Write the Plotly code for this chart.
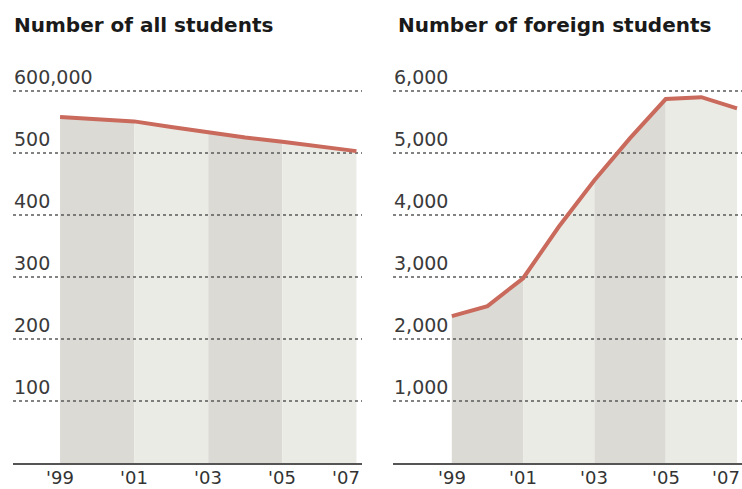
import plotly.graph_objects as go

# ---- data ----
years = [1999, 2000, 2001, 2002, 2003, 2004, 2005, 2006, 2007]
all_students = [558000, 555000, 551000, 542000, 533000, 525000, 518000, 510000, 503000]
foreign_students = [2370, 2530, 2980, 3810, 4560, 5240, 5870, 5900, 5720]

year_tickvals = [1999, 2001, 2003, 2005, 2007]
year_ticktext = ["'99", "'01", "'03", "'05", "'07"]

left_tickvals = [100000, 200000, 300000, 400000, 500000, 600000]
left_ticktext = ["100", "200", "300", "400", "500", "600,000"]
right_tickvals = [1000, 2000, 3000, 4000, 5000, 6000]
right_ticktext = ["1,000", "2,000", "3,000", "4,000", "5,000", "6,000"]

titles = ["Number of all students", "Number of foreign students"]

# ---- style ----
FONT = "DejaVu Sans"
DARK = "#dbdad5"
LIGHT = "#ebebe5"
LINE = "#c96a5c"
GRID = "#5a5a5a"

W, H = 742, 489


def px_x(p):
    return p / W


def px_y(p):
    return 1 - p / H


left_dom = [px_x(13), px_x(362)]
right_dom = [px_x(393), 1.0]
y_dom = [px_y(463), px_y(60)]
left_xrange = [1997.73, 2007.15]
right_xrange = [1997.35, 2007.14]
left_yrange = [0, 650000]
right_yrange = [0, 6500]

fig = go.Figure()


def add_panel(values, xa, ya, xrange, tickvals):
    # alternating bands under the curve (two years per band)
    for i in range(0, len(years) - 1, 2):
        col = DARK if (i // 2) % 2 == 0 else LIGHT
        fig.add_trace(go.Scatter(
            x=years[i:i + 3], y=values[i:i + 3], mode="lines",
            line=dict(width=0, color=col), fill="tozeroy", fillcolor=col,
            xaxis=xa, yaxis=ya, hoverinfo="skip", showlegend=False))
    # dotted gridlines above bands
    for v in tickvals:
        fig.add_trace(go.Scatter(
            x=xrange, y=[v, v], mode="lines",
            line=dict(color=GRID, width=1.3, dash="dot"),
            xaxis=xa, yaxis=ya, hoverinfo="skip", showlegend=False))
    # data line
    fig.add_trace(go.Scatter(
        x=years, y=values, mode="lines",
        line=dict(color=LINE, width=4),
        xaxis=xa, yaxis=ya, showlegend=False))


add_panel(all_students, "x", "y", left_xrange, left_tickvals)
add_panel(foreign_students, "x2", "y2", right_xrange, right_tickvals)

xcommon = dict(showgrid=False, zeroline=False, showline=True, linecolor="#555555",
               linewidth=2, ticks="", showticklabels=False, automargin=False,
               fixedrange=True)
ycommon = dict(showgrid=False, zeroline=False, showticklabels=False, ticks="",
               domain=y_dom, automargin=False, fixedrange=True)

fig.update_layout(
    width=W, height=H, margin=dict(l=0, r=0, t=0, b=0, autoexpand=False),
    paper_bgcolor="white", plot_bgcolor="white",
    xaxis=dict(domain=left_dom, range=left_xrange, anchor="y", **xcommon),
    yaxis=dict(range=left_yrange, anchor="x", **ycommon),
    xaxis2=dict(domain=right_dom, range=right_xrange, anchor="y2", **xcommon),
    yaxis2=dict(range=right_yrange, anchor="x2", **ycommon),
)

annotations = []
# y-axis labels sitting above their gridlines
for vals, txts, xr, yr in [(left_tickvals, left_ticktext, "x domain", "y"),
                           (right_tickvals, right_ticktext, "x2 domain", "y2")]:
    for v, t in zip(vals, txts):
        annotations.append(dict(
            x=0, y=v, xref=xr, yref=yr, text=t, showarrow=False,
            xanchor="left", yanchor="bottom", yshift=1, xshift=-1,
            font=dict(family=FONT, size=19, color="#3a3a3a")))

# year labels below the baseline (last one kept inside the panel edge)
for xr, yr in [("x", "y"), ("x2", "y2")]:
    for k, (v, t) in enumerate(zip(year_tickvals, year_ticktext)):
        last = k == len(year_tickvals) - 1
        annotations.append(dict(
            x=1 if last else v, xref=(xr + " domain") if last else xr,
            y=0, yref=yr, text=t, showarrow=False,
            xanchor="right" if last else "center", yanchor="top", yshift=-2,
            font=dict(family=FONT, size=18, color="#333333")))

for t, xpix in zip(titles, [12, 396]):
    annotations.append(dict(
        x=px_x(xpix), y=px_y(25), xref="paper", yref="paper", text="<b>" + t + "</b>",
        showarrow=False, xanchor="left", yanchor="middle",
        font=dict(family=FONT, size=20, color="#1a1a1a")))

fig.update_layout(annotations=annotations)

fig.write_html(
    "out.html",
    config={"displayModeBar": False},
    post_script="document.body.style.margin='0px';"
                "document.documentElement.style.overflow='hidden';"
                "document.body.style.overflow='hidden';",
)
